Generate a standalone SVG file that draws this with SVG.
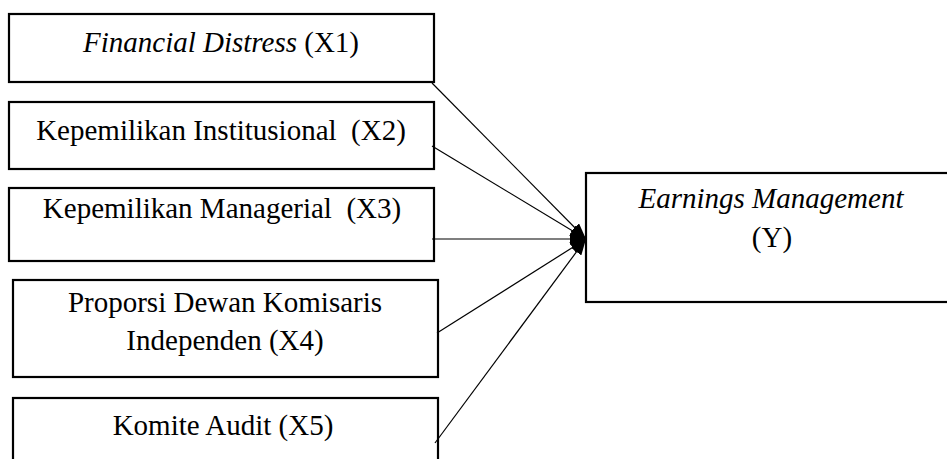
<svg xmlns="http://www.w3.org/2000/svg" width="947" height="459" viewBox="0 0 947 459">
<style>
.box{fill:#fff;stroke:#000;stroke-width:2.2}
.t{font-family:"Liberation Serif","Times New Roman",serif;font-size:29px;fill:#000;text-anchor:middle}
.i{font-style:italic}
.c{stroke:#000;stroke-width:1.2;fill:none;marker-end:url(#ah)}
</style>
<defs>
<marker id="ah" viewBox="0 0 16 12" refX="16" refY="6" markerWidth="16" markerHeight="12" markerUnits="userSpaceOnUse" orient="auto">
<path d="M0,0 L16,6 L0,12 Z" fill="#000"/>
</marker>
</defs>
<rect width="947" height="459" fill="#fff"/>
<g id="x1">
<rect class="box" x="9" y="14" width="425" height="68"/>
<text class="t" x="221" y="52"><tspan class="i">Financial Distress</tspan> (X1)</text>
</g>
<g id="x2">
<rect class="box" x="9" y="102" width="425" height="67"/>
<text class="t" x="221" y="140" xml:space="preserve">Kepemilikan Institusional  (X2)</text>
</g>
<g id="x3">
<rect class="box" x="9" y="188" width="425" height="73"/>
<text class="t" x="222" y="218" xml:space="preserve">Kepemilikan Managerial  (X3)</text>
</g>
<g id="x4">
<rect class="box" x="13" y="280" width="425" height="97"/>
<text class="t" x="225" y="312">Proporsi Dewan Komisaris</text>
<text class="t" x="225" y="350">Independen (X4)</text>
</g>
<g id="x5">
<rect class="box" x="13" y="398" width="425" height="80"/>
<text class="t" x="223" y="435">Komite Audit (X5)</text>
</g>
<g id="y">
<rect class="box" x="586" y="173" width="380" height="129"/>
<text class="t i" x="771" y="208">Earnings Management</text>
<text class="t" x="772" y="247">(Y)</text>
</g>
<g id="connectors">
<line class="c" x1="432" y1="83" x2="586" y2="239"/>
<line class="c" x1="432" y1="146" x2="586" y2="239"/>
<line class="c" x1="432" y1="239" x2="586" y2="239"/>
<line class="c" x1="437" y1="333" x2="586" y2="239"/>
<line class="c" x1="435" y1="443" x2="586" y2="239"/>
</g>
</svg>
